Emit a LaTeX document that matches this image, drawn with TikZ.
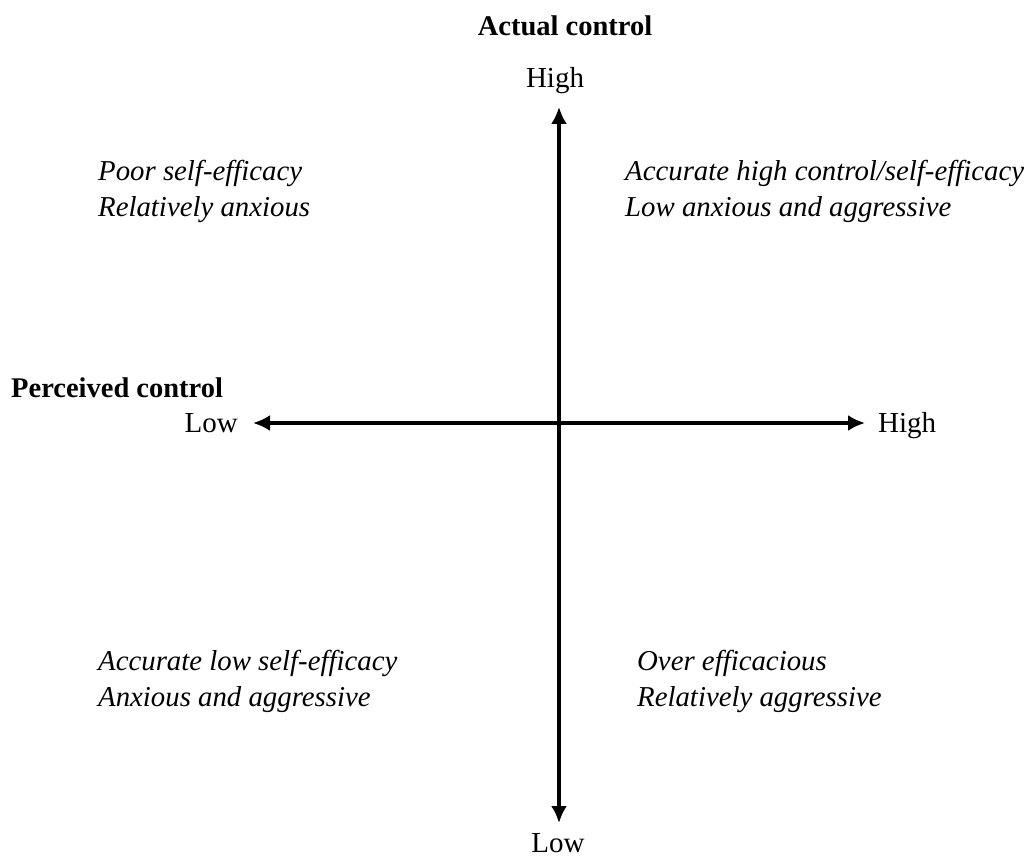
\documentclass[tikz,border=0pt]{standalone}
\usepackage{fontspec}
\setmainfont{Liberation Serif}
\usetikzlibrary{arrows.meta}
\tikzset{
  axis/.style={line width=3.2pt, -{Latex[length=17pt,width=16pt]}},
  lbl/.style={inner sep=0pt, font=\fontsize{29}{34}\selectfont},
  title/.style={inner sep=0pt, font=\fontsize{28.5}{34}\selectfont\bfseries},
  quad/.style={inner sep=0pt, anchor=base west, font=\fontsize{28.8}{34}\selectfont\itshape},
}
\begin{document}
\begin{tikzpicture}[x=1pt,y=-1pt]
\useasboundingbox (0,0) rectangle (1029,858);
\coordinate (o) at (559,423);
\coordinate (top) at (559,107);
\coordinate (bot) at (559,823);
\coordinate (lft) at (253,423);
\coordinate (rgt) at (865,423);
\draw[axis] (o) -- (top);
\draw[axis] (o) -- (bot);
\draw[axis] (o) -- (lft);
\draw[axis] (o) -- (rgt);
\node[title, anchor=base] (ac) at (565,36) {Actual control};
\node[lbl, anchor=base] (hiT) at (555,88) {High};
\node[lbl, anchor=base] (loB) at (558,852) {Low};
\node[title, anchor=base west] (pc) at (11,398) {Perceived control};
\node[lbl, anchor=base east] (loL) at (238,433) {Low};
\node[lbl, anchor=base west] (hiR) at (878,433) {High};
\node[quad] (q1a) at (98,181) {Poor self-efficacy};
\node[quad] (q1b) at (98,217) {Relatively anxious};
\node[quad] (q2a) at (625,181) {Accurate high control/self-efficacy};
\node[quad] (q2b) at (625,217) {Low anxious and aggressive};
\node[quad] (q3a) at (98,670) {Accurate low self-efficacy};
\node[quad] (q3b) at (98,706) {Anxious and aggressive};
\node[quad] (q4a) at (637,670) {Over efficacious};
\node[quad] (q4b) at (637,706) {Relatively aggressive};
\end{tikzpicture}
\end{document}
